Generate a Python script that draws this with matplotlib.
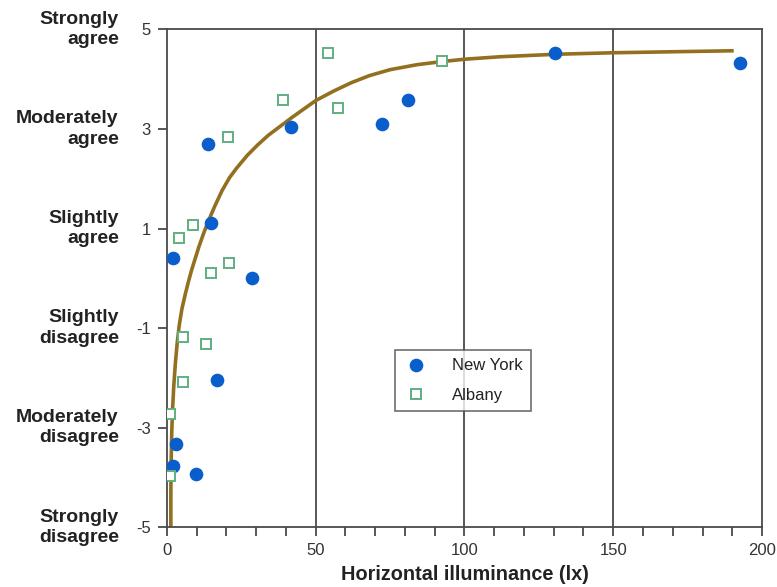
import matplotlib
matplotlib.use("Agg")
import matplotlib.pyplot as plt
import matplotlib.transforms as mtransforms
from matplotlib.ticker import MultipleLocator

plt.rcParams['font.family'] = ['Liberation Sans', 'DejaVu Sans']

# --- data ---
ny_x = [13.7, 14.8, 2.1, 28.5, 41.8, 72.2, 81.1, 130.5, 192.7, 16.8, 2.9, 2.1, 9.8]
ny_y = [2.70, 1.12, 0.40, 0.0, 3.03, 3.10, 3.59, 4.53, 4.32, -2.04, -3.32, -3.76, -3.93]

alb_x = [20.4, 8.6, 4.0, 14.7, 20.9, 54.0, 38.9, 57.5, 92.6, 5.3, 13.0, 5.5, 1.0, 1.0]
alb_y = [2.84, 1.07, 0.80, 0.10, 0.31, 4.53, 3.58, 3.43, 4.37, -1.18, -1.32, -2.08, -2.73, -3.96]

fit_x = [1.3, 1.3, 1.4, 1.6, 1.9, 2.3, 2.8, 3.4, 4.1, 5.0, 6.1, 7.2, 8.3, 9.4, 10.7,
         12.3, 14.0, 16.0, 18.5, 21.0, 23.5, 27.0, 30.5, 34.0, 38.0, 42.0, 46.0,
         50.0, 56.0, 62.0, 68.0, 75.0, 84.0, 92.0, 100.0, 112.0, 131.0, 150.0, 170.0, 190.5]
fit_y = [-5.0, -4.3, -3.7, -3.1, -2.6, -2.15, -1.72, -1.32, -0.95, -0.62, -0.33, -0.07, 0.17,
         0.38, 0.63, 0.90, 1.16, 1.44, 1.76, 2.02, 2.22, 2.47, 2.68, 2.87, 3.05, 3.23, 3.40,
         3.57, 3.76, 3.93, 4.07, 4.19, 4.29, 4.35, 4.40, 4.45, 4.50, 4.53, 4.55, 4.57]

y_ticks = [5, 3, 1, -1, -3, -5]
y_cats = ["Strongly\nagree", "Moderately\nagree", "Slightly\nagree",
          "Slightly\ndisagree", "Moderately\ndisagree", "Strongly\ndisagree"]
x_major = [0, 50, 100, 150, 200]
x_grid = [50, 100, 150]

fig = plt.figure(figsize=(7.77, 5.87), dpi=100)
ax = fig.add_axes([0.2149, 0.1017, 0.7658, 0.8483])

axis_col = '#4a4a4a'
for x in x_grid:
    ax.axvline(x, color=axis_col, lw=1.3, zorder=1)

ax.plot(fit_x, fit_y, color='#93701f', lw=2.6, zorder=2,
        solid_capstyle='butt', solid_joinstyle='round')

ax.plot(ny_x, ny_y, 'o', ms=8.8, color='#0a5ecb', mec='#0a5ecb', zorder=3, label='New York')
ax.plot(alb_x, alb_y, 's', ms=7.6, mfc='white', mec='#5fb080', mew=1.4, zorder=3, label='Albany')

ax.set_xlim(0, 200)
ax.set_ylim(-5, 5)
ax.set_xticks(x_major)
ax.xaxis.set_minor_locator(MultipleLocator(10))
ax.set_yticks(y_ticks)
ax.set_yticklabels([str(v) for v in y_ticks])

for s in ax.spines.values():
    s.set_color(axis_col)
    s.set_linewidth(1.3)

ax.tick_params(axis='both', which='both', direction='out', length=6.5, width=1.3,
               color=axis_col, labelsize=12, labelcolor='#333333')
ax.tick_params(axis='x', pad=5)
ax.tick_params(axis='y', pad=5)

trans = mtransforms.blended_transform_factory(ax.transAxes, ax.transData)
for v, lab in zip(y_ticks, y_cats):
    ax.text(-0.081, v, lab, transform=trans, ha='right', va='center',
            fontsize=14, fontweight='bold', color='#222222', linespacing=1.25)

ax.set_xlabel('Horizontal illuminance (lx)', fontsize=14.3, fontweight='bold',
              color='#222222', labelpad=5)

leg = ax.legend(loc='upper left', bbox_to_anchor=(0.384, 0.356), fontsize=12,
                frameon=True, fancybox=False, borderpad=0.5, labelspacing=0.85,
                handlelength=1.5, handletextpad=1.4, borderaxespad=0)
leg.get_frame().set_edgecolor(axis_col)
leg.get_frame().set_linewidth(1.2)
for t in leg.get_texts():
    t.set_color('#222222')

fig.savefig('out.png', dpi=100)
